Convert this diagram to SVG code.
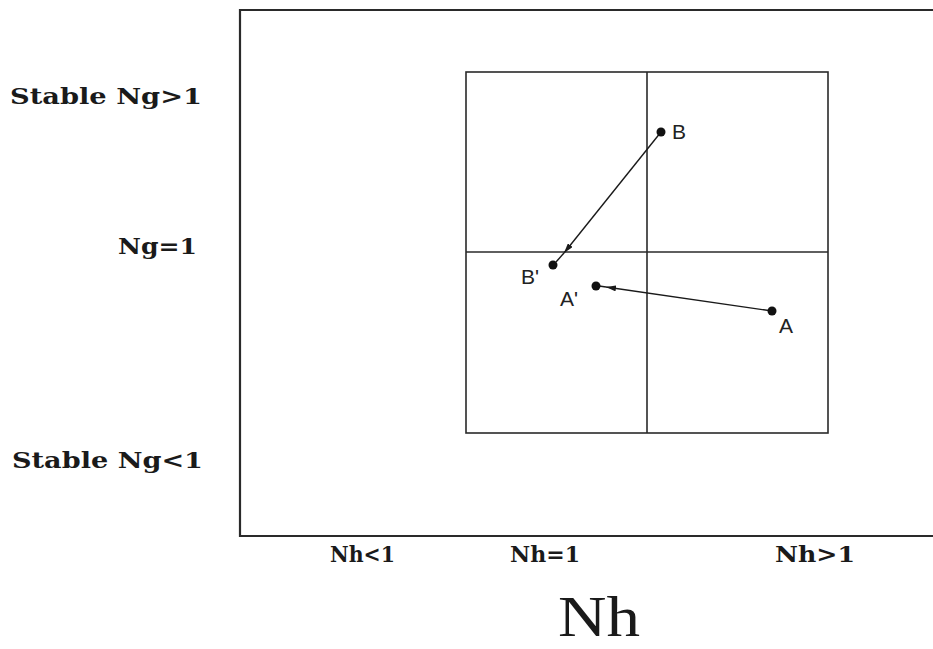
<svg xmlns="http://www.w3.org/2000/svg" width="933" height="649" viewBox="0 0 933 649">
<defs>
<style>
.frame{fill:none;stroke:#2a2a2a;stroke-width:2.2}
.grid{fill:none;stroke:#2a2a2a;stroke-width:1.6}
.conn{stroke:#1a1a1a;stroke-width:1.4;fill:none}
.dot{fill:#111}
.lbl{font-family:"Liberation Sans",Arial,sans-serif;font-size:21px;fill:#222}
.ax{font-family:"DejaVu Serif","Liberation Serif",serif;font-weight:bold;font-size:23px;fill:#1a1a1a}
.big{font-family:"Liberation Serif","Times New Roman",serif;font-size:58px;fill:#1a1a1a}
</style>
<marker id="ah" viewBox="0 0 10 6" refX="10" refY="3" markerWidth="10" markerHeight="6" markerUnits="userSpaceOnUse" orient="auto">
<path d="M0,0 L10,3 L0,6 z" fill="#1a1a1a"/>
</marker>
</defs>
<rect width="933" height="649" fill="#fff"/>
<path class="frame" d="M940,10 L240,10 L240,536 L940,536"/>
<g id="quadrants">
<rect class="grid" x="466" y="72" width="362" height="361"/>
<line class="grid" x1="647" y1="72" x2="647" y2="433"/>
<line class="grid" x1="466" y1="252" x2="828" y2="252"/>
</g>
<g id="connectors">
<line class="conn" x1="661" y1="132" x2="564" y2="253" marker-end="url(#ah)"/>
<line class="conn" x1="564" y1="253" x2="556" y2="262"/>
<line class="conn" x1="772" y1="311" x2="606" y2="287" marker-end="url(#ah)"/>
<line class="conn" x1="606" y1="287" x2="599" y2="286"/>
</g>
<g id="B"><circle class="dot" cx="661" cy="132" r="4.5"/><text class="lbl" x="672" y="139">B</text></g>
<g id="Bp"><circle class="dot" cx="553" cy="265" r="4.5"/><text class="lbl" x="521" y="284">B'</text></g>
<g id="Ap"><circle class="dot" cx="596" cy="286" r="4.5"/><text class="lbl" x="560" y="306">A'</text></g>
<g id="A"><circle class="dot" cx="772" cy="311" r="4.5"/><text class="lbl" x="779" y="333">A</text></g>
<g id="labels">
<text class="ax" x="10" y="104" textLength="192" lengthAdjust="spacingAndGlyphs">Stable  Ng&gt;1</text>
<text class="ax" x="118" y="254" textLength="79" lengthAdjust="spacingAndGlyphs">Ng=1</text>
<text class="ax" x="12" y="468" textLength="191" lengthAdjust="spacingAndGlyphs">Stable  Ng&lt;1</text>
<text class="ax" x="330" y="562" textLength="65" lengthAdjust="spacingAndGlyphs">Nh&lt;1</text>
<text class="ax" x="510" y="562" textLength="70" lengthAdjust="spacingAndGlyphs">Nh=1</text>
<text class="ax" x="775" y="562" textLength="80" lengthAdjust="spacingAndGlyphs">Nh&gt;1</text>
<text class="big" x="558" y="636" textLength="82" lengthAdjust="spacingAndGlyphs">Nh</text>
</g>
</svg>
